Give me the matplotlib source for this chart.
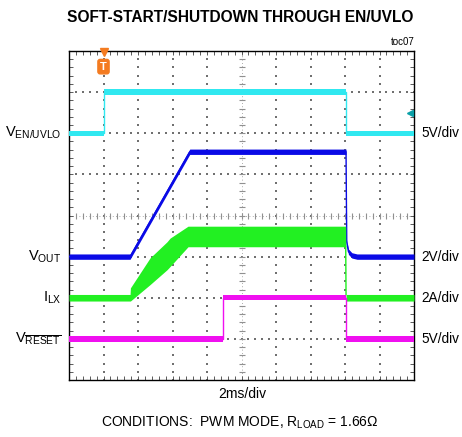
import numpy as np
import matplotlib
matplotlib.use('Agg')
import matplotlib.pyplot as plt
import matplotlib.transforms as mtransforms
from matplotlib.ticker import MultipleLocator

plt.rcParams['font.family'] = ['Liberation Sans', 'DejaVu Sans']
plt.rcParams['mathtext.fontset'] = 'custom'
plt.rcParams['mathtext.rm'] = 'Liberation Sans'
plt.rcParams['mathtext.it'] = 'Liberation Sans:italic'
plt.rcParams['mathtext.bf'] = 'Liberation Sans:bold'

# traces, x in ms-divisions (2ms/div), y in screen divisions
en_t = [0, 1.0, 1.0, 8.03, 8.03, 10]
en_v = [6.0, 6.0, 7.0, 7.0, 6.0, 6.0]

vout_t = [0, 1.77, 3.5, 8.03, 8.05, 8.1, 8.2, 8.35, 10]
vout_v = [3.0, 3.0, 5.55, 5.55, 3.35, 3.12, 3.03, 3.0, 3.0]

ilx_t = [0, 1.77, 1.78, 2.35, 2.84, 2.93, 3.45, 8.02, 8.03, 10]
ilx_top = [2.08, 2.08, 2.24, 2.97, 3.36, 3.45, 3.74, 3.74, 2.08, 2.08]
ilx_bot = [1.92, 1.92, 1.92, 2.32, 2.68, 2.76, 3.24, 3.24, 1.92, 1.92]

reset_t = [0, 4.47, 4.47, 8.03, 8.03, 10]
reset_v = [1.0, 1.0, 2.0, 2.0, 1.0, 1.0]

left_labels = [r'V$_{\mathrm{EN/UVLO}}$', r'V$_{\mathrm{OUT}}$', r'I$_{\mathrm{LX}}$',
               r'V$_{\overline{\mathrm{RESET}}}$']
right_labels = ['5V/div', '2V/div', '2A/div', '5V/div']
label_levels = [6.0, 3.0, 2.0, 1.0]

c_en = '#30e8f0'
c_vout = '#0a0ae6'
c_ilx = '#22f022'
c_reset = '#f010f0'
hw = 0.065  # half thickness of noisy traces

fig = plt.figure(figsize=(4.62, 4.37), dpi=100)
ax = fig.add_axes([69/462, 1-380/437, 345/462, 329/437])
ax.set_xlim(0, 10)
ax.set_ylim(0, 8)

# scope graticule
gx = np.arange(0, 10.01, 0.2)
gy = np.arange(0, 8.01, 0.2)
for i in range(1, 10):
    if i == 5:
        continue
    ax.scatter(np.full(len(gy), i), gy, s=1.0, c='#707070', marker='s', lw=0, zorder=1)
for j in range(1, 8):
    if j == 4:
        continue
    ax.scatter(gx, np.full(len(gx), j), s=1.0, c='#707070', marker='s', lw=0, zorder=1)
ax.plot(np.full(len(gy), 5), gy, ls='none', marker='_', ms=4, mew=0.8, c='#909090', zorder=1)
ax.plot(gx, np.full(len(gx), 4), ls='none', marker='|', ms=4, mew=0.8, c='#909090', zorder=1)
ax.plot([5, 5], [0, 8], ls=(0, (1, 3)), lw=0.6, c='#909090', zorder=1)
ax.plot([0, 10], [4, 4], ls=(0, (1, 3)), lw=0.6, c='#909090', zorder=1)

ax.xaxis.set_major_locator(MultipleLocator(1))
ax.yaxis.set_major_locator(MultipleLocator(1))
ax.xaxis.set_minor_locator(MultipleLocator(0.2))
ax.yaxis.set_minor_locator(MultipleLocator(0.2))
ax.tick_params(which='both', direction='in', top=True, right=True, length=3,
               width=0.6, color='#404040', labelbottom=False, labelleft=False)
for s in ax.spines.values():
    s.set_linewidth(1.0)

# traces
def trace(t, v, col):
    v = np.array(v)
    ax.fill_between(t, v - hw, v + hw, color=col, lw=0, zorder=3)
    ax.plot(t, v, color=col, lw=1, zorder=3)

trace(en_t, en_v, c_en)
trace(vout_t, vout_v, c_vout)
ax.fill_between(ilx_t, ilx_bot, ilx_top, color=c_ilx, lw=0, zorder=3)
ax.plot([ilx_t[7], ilx_t[8]], [ilx_bot[7], ilx_top[8]], color=c_ilx, lw=1, zorder=3)
trace(reset_t, reset_v, c_reset)

# trigger markers
ax.plot(1.0, 7.97, marker='v', ms=6, color='#f47b20', clip_on=False, zorder=5)
ax.text(1.0, 7.62, 'T', ha='center', va='center', color='white', fontsize=8,
        fontweight='bold', zorder=5,
        bbox=dict(boxstyle='round,pad=0.2', fc='#f47b20', ec='#f47b20'))
ax.plot([9.88, 10], [6.5, 6.5], color='#0aa0a8', lw=1.2, zorder=5)
ax.plot(9.88, 6.5, marker='<', ms=5, color='#0aa0a8', zorder=5)

trans = mtransforms.blended_transform_factory(ax.transAxes, ax.transData)
for lab, lev in zip(left_labels, label_levels):
    ax.text(-0.022, lev, lab, transform=trans, ha='right', va='center', fontsize=10.5)
for lab, lev in zip(right_labels, label_levels):
    ax.text(1.022, lev, lab, transform=trans, ha='left', va='center', fontsize=9.8)

fig.text(240/462, 1-18/437, 'SOFT-START/SHUTDOWN THROUGH EN/UVLO', ha='center', va='center',
         fontsize=11.2, fontweight='bold')
fig.text(415/462, 1-42/437, 'toc07', ha='right', va='center', fontsize=7)
fig.text(242/462, 1-394/437, '2ms/div', ha='center', va='center', fontsize=10)
fig.text(240/462, 1-423/437, r'CONDITIONS:  PWM MODE, R$_{\mathrm{LOAD}}$ = 1.66Ω',
         ha='center', va='center', fontsize=10)

fig.savefig('out.png', dpi=100)
